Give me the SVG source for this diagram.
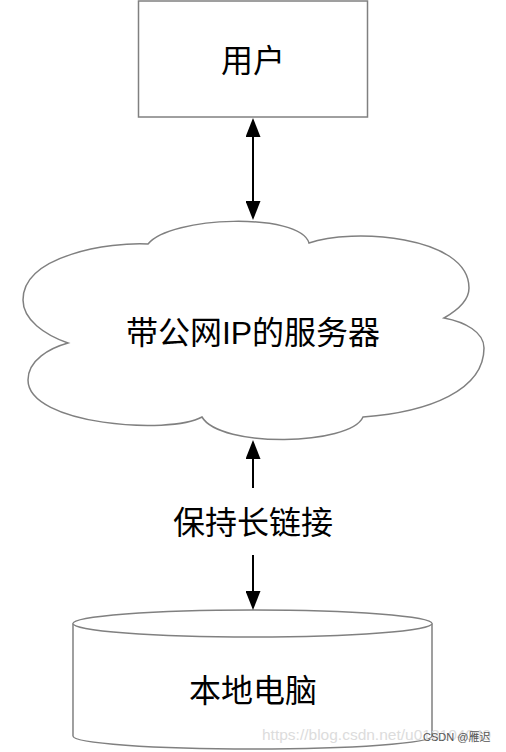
<svg xmlns="http://www.w3.org/2000/svg" width="506" height="752" viewBox="0 0 506 752">
<style>
.shape{fill:#ffffff;stroke:#808080;stroke-width:1.5}
.lbl{font-family:"Liberation Sans","Noto Sans CJK SC",sans-serif;font-size:32px;fill:#000;text-anchor:middle}
.conn{fill:none;stroke:#000;stroke-width:2}
</style>
<defs>
<marker id="arr" viewBox="0 0 19 15" refX="0" refY="7.5" markerWidth="19" markerHeight="15" markerUnits="userSpaceOnUse" orient="auto-start-reverse">
<path d="M0 0 L19 7.5 L0 15 Z" fill="#000"/>
</marker>
</defs>
<rect width="506" height="752" fill="#fff"/>
<g id="user">
<rect class="shape" x="138.5" y="1" width="229" height="116"/>
<text class="lbl" x="253" y="72">用户</text>
</g>
<g id="server">
<path class="shape" d="M148 244 C170 216 300 212 309 243 C350 228 469 235 469 288 C469 300 458 310 444 318 C465 322 484 332 484 348 C484 390 430 412 363 417 C350 446 220 448 202 417 C170 435 28 425 28 380 C28 360 50 348 68 343 C45 335 23 320 23 300 C23 255 110 242 148 244 Z"/>
<text class="lbl" x="253" y="344">带公网IP的服务器</text>
</g>
<g id="local">
<path class="shape" d="M73 623.5 A179.5 13.5 0 0 1 432 623.5 L432 736 A179.5 13 0 0 1 73 736 Z"/>
<path class="shape" fill="none" d="M73 623.5 A179.5 13.5 0 0 0 432 623.5"/>
<text class="lbl" x="253" y="702">本地电脑</text>
</g>
<g id="connectors">
<path class="conn" d="M253 137 L253 201" marker-start="url(#arr)" marker-end="url(#arr)"/>
<path class="conn" d="M253 488 L253 459" marker-end="url(#arr)"/>
<path class="conn" d="M253 555 L253 591" marker-end="url(#arr)"/>
<text class="lbl" x="253" y="534">保持长链接</text>
</g>
<g id="watermark">
<text x="262" y="740" font-family="'Liberation Sans',sans-serif" font-size="15.5" fill="#dcdcdc">https://blog.csdn.net/u013104049</text>
<text x="423" y="741" font-family="'Liberation Sans','Noto Sans CJK SC',sans-serif" font-size="11" fill="#555">CSDN @雁迟</text>
</g>
</svg>
